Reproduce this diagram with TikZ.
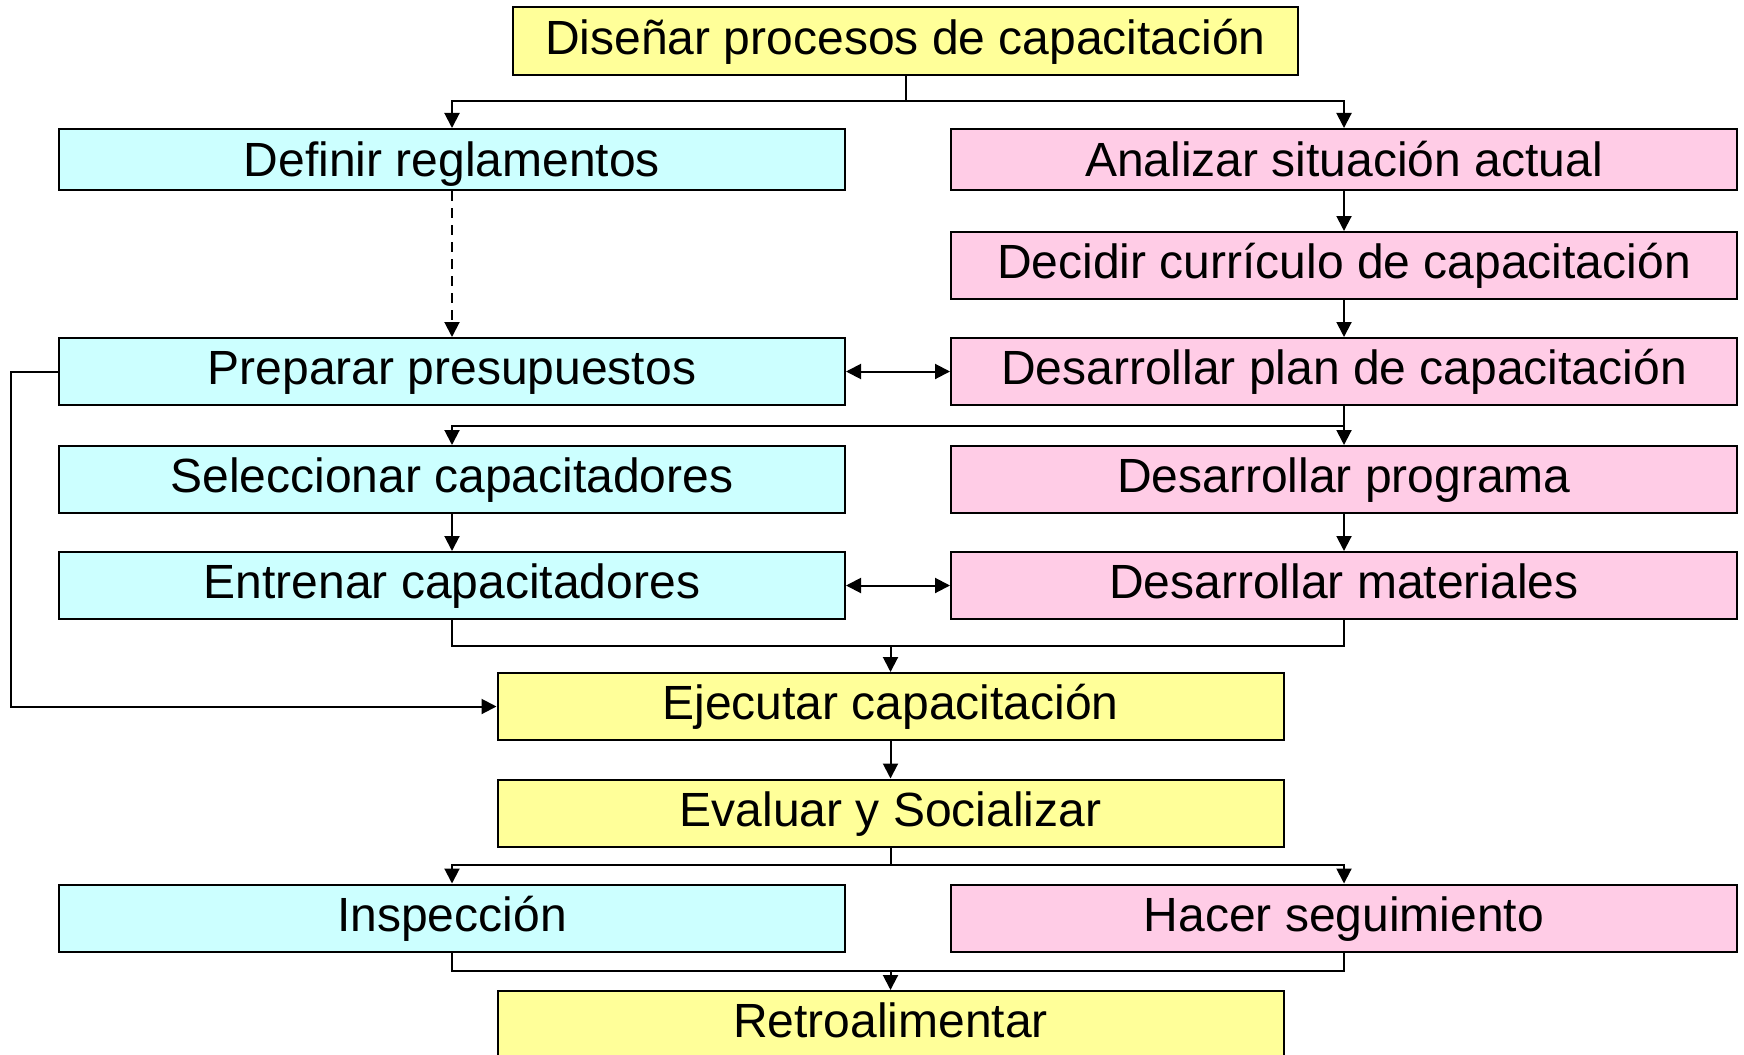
\documentclass[tikz,border=0pt]{standalone}
\usepackage{fontspec}
\setmainfont{Liberation Sans}
\usetikzlibrary{arrows.meta}
\definecolor{yel}{RGB}{255,255,153}
\definecolor{cya}{RGB}{204,255,255}
\definecolor{pnk}{RGB}{255,204,230}
\tikzset{
  box/.style={draw=black, line width=1pt, inner sep=0pt, minimum width=393pt,
    minimum height=33.5pt, text height=17.2pt, text depth=4pt,
    font=\fontsize{24pt}{28pt}\selectfont},
  shortbox/.style={minimum height=30.5pt, text depth=0pt},
  ybox/.style={box, fill=yel},
  cbox/.style={box, fill=cya},
  pbox/.style={box, fill=pnk},
  conn/.style={line width=1pt, draw=black},
  arr/.style={conn, -{Triangle[length=7.5pt,width=7.5pt]}},
  darr/.style={conn, {Triangle[length=7.5pt,width=7.5pt]}-{Triangle[length=7.5pt,width=7.5pt]}},
}
\begin{document}
\begin{tikzpicture}[x=0.5pt,y=-0.5pt]
\useasboundingbox (0,0) rectangle (1744,1054);
% nodes
\node[ybox, minimum width=392.5pt, minimum height=34pt] (top) at (905.5,41.5) {Diseñar procesos de capacitación};
\node[cbox, shortbox] (defin) at (452,159.5) {Definir reglamentos};
\node[pbox, shortbox] (anal) at (1344,159.5) {Analizar situación actual};
\node[pbox] (decid) at (1344,265.5) {Decidir currículo de capacitación};
\node[cbox] (prep) at (452,371.5) {Preparar presupuestos};
\node[pbox] (plan) at (1344,371.5) {Desarrollar plan de capacitación};
\node[cbox] (selec) at (452,479.5) {Seleccionar capacitadores};
\node[pbox] (prog) at (1344,479.5) {Desarrollar programa};
\node[cbox] (entr) at (452,585.5) {Entrenar capacitadores};
\node[pbox] (mat) at (1344,585.5) {Desarrollar materiales};
\node[ybox] (ejec) at (890.5,706.5) {Ejecutar capacitación};
\node[ybox] (eval) at (890.5,813) {Evaluar y Socializar};
\node[cbox] (insp) at (452,918) {Inspección};
\node[pbox] (hacer) at (1344,918) {Hacer seguimiento};
\node[ybox] (retro) at (890.5,1024.5) {Retroalimentar};
% junction coordinates
\coordinate (b1) at (905.5,101);
\coordinate (b2) at (1344,426);
\coordinate (m1) at (890.5,646);
\coordinate (b3) at (890.5,865);
\coordinate (m2) at (890.5,971);
\coordinate (l1) at (11,371.5);
% connectors
\draw[arr] (top.south) -- (b1) -| (defin.north);
\draw[arr] (b1) -| (anal.north);
\draw[arr, dash pattern=on 5pt off 3.5pt] (defin.south) -- (prep.north);
\draw[arr] (anal.south) -- (decid.north);
\draw[arr] (decid.south) -- (plan.north);
\draw[darr] (prep.east) -- (plan.west);
\draw[arr] (plan.south) -- (prog.north);
\draw[arr] (b2) -| (selec.north);
\draw[arr] (selec.south) -- (entr.north);
\draw[arr] (prog.south) -- (mat.north);
\draw[darr] (entr.east) -- (mat.west);
\draw[conn] (entr.south) |- (m1) -| (mat.south);
\draw[arr] (m1) -- (ejec.north);
\draw[arr] (prep.west) -- (l1) |- (ejec.west);
\draw[arr] (ejec.south) -- (eval.north);
\draw[conn] (eval.south) -- (b3);
\draw[arr] (b3) -| (insp.north);
\draw[arr] (b3) -| (hacer.north);
\draw[conn] (insp.south) |- (m2) -| (hacer.south);
\draw[arr] (m2) -- (retro.north);
\end{tikzpicture}
\end{document}
